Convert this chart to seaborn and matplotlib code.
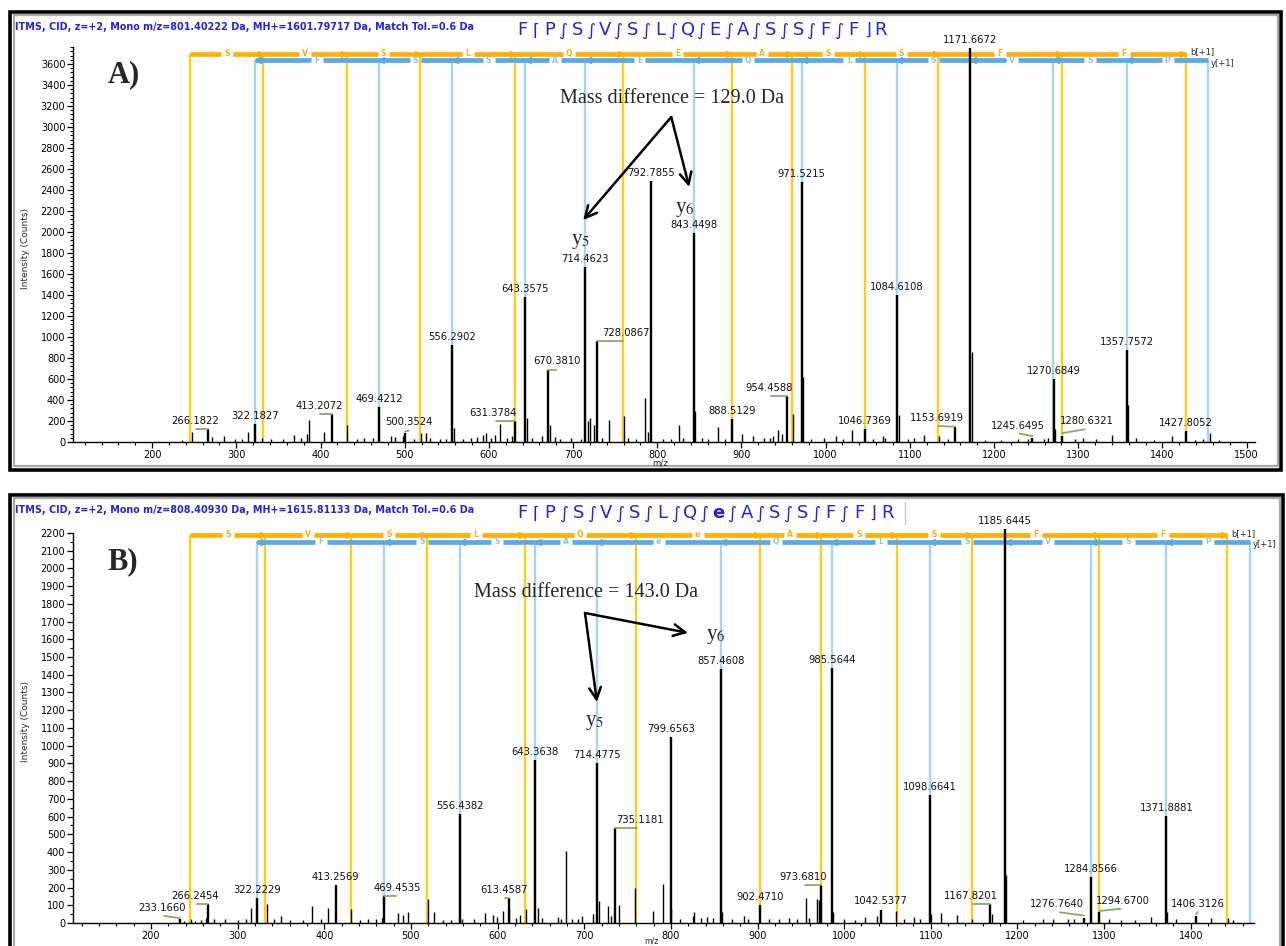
import numpy as np
import pandas as pd
import matplotlib
matplotlib.use("Agg")
import matplotlib.pyplot as plt
import seaborn as sns
from matplotlib.patches import Rectangle
from matplotlib.ticker import MultipleLocator

# ---------------------------------------------------------------- data
# Panel A: FPSVSLQEASSFFR (precursor m/z 801.40222, z=+2)
a_label_mz = [266.1822, 322.1827, 413.2072, 469.4212, 500.3524, 556.2902, 631.3784,
              643.3575, 670.3810, 714.4623, 728.0867, 792.7855, 843.4498, 888.5129,
              954.4588, 971.5215, 1046.7369, 1084.6108, 1153.6919, 1171.6672,
              1245.6495, 1270.6849, 1280.6321, 1357.7572, 1427.8052]
a_label_int = [120, 174, 270, 330, 90, 920, 200, 1385, 690, 1662, 960, 2488, 1993, 220,
               440, 2473, 122, 1400, 142, 3750, 40, 600, 60, 875, 108]
a_minor_mz = [236, 247, 270.8, 285, 298, 307, 314, 331, 341, 355, 369, 377, 384, 386.5,
              404, 432, 443, 452, 462, 484, 489, 498, 510.8, 519.5, 525.3, 530, 542,
              549.5, 558.5, 569, 578.6, 586, 593, 597, 603, 607.7, 613.5, 622, 627,
              645.5, 651, 663, 672, 678, 685, 697, 709, 717.8, 720, 725, 734, 743,
              760.4, 765, 775, 786, 789, 806.7, 816, 826, 831, 845, 853, 860.5, 871.8,
              880, 901, 914, 926.7, 934, 938, 943.8, 948.7, 961, 973.7, 983, 997.7,
              1012.4, 1021, 1031, 1056.5, 1068.7, 1071, 1087, 1098, 1105.5, 1116.7,
              1135, 1145, 1174, 1188.7, 1208, 1228, 1240, 1259.8, 1264.7, 1272, 1296,
              1306, 1321, 1340.6, 1359.2, 1369, 1389.6, 1411.6, 1438.6, 1448.4, 1456,
              1467.7]
a_minor_int = [15, 100, 50, 60, 25, 25, 95, 40, 30, 25, 65, 40, 80, 205,
               95, 160, 30, 35, 40, 60, 45, 60, 30, 90, 90, 40, 30,
               25, 130, 25, 40, 50, 70, 90, 40, 70, 170, 40, 55,
               230, 40, 60, 160, 50, 30, 40, 30, 200, 225, 160, 40, 210,
               250, 40, 30, 420, 100, 30, 25, 160, 40, 300, 40, 25, 140,
               30, 75, 55, 40, 35, 60, 110, 80, 270, 620, 30, 40,
               60, 30, 115, 30, 60, 40, 255, 30, 40, 65,
               60, 30, 860, 20, 20, 25, 30, 30, 40, 120, 25,
               40, 25, 65, 350, 40, 20, 60, 20, 25, 90,
               15]
a_b_mz = [245.13, 332.16, 431.23, 518.26, 631.35, 759.40, 888.45, 959.48, 1046.51,
          1133.55, 1280.61, 1427.68]
a_b_res = ["S", "V", "S", "L", "Q", "E", "A", "S", "S", "F", "F"]
a_y_mz = [322.19, 469.26, 556.29, 643.32, 714.36, 843.40, 971.46, 1084.55, 1171.58,
          1270.65, 1357.68, 1454.73]
a_y_res = ["F", "S", "S", "A", "E", "Q", "L", "S", "V", "S", "P"]
a_sequence = list("FPSVSLQEASSFFR")
a_title = "ITMS, CID, z=+2, Mono m/z=801.40222 Da, MH+=1601.79717 Da, Match Tol.=0.6 Da"
a_note = "Mass difference = 129.0 Da"

# Panel B: FPSVSLQeASSFFR, e = methylated glutamate (precursor m/z 808.40930, z=+2)
b_label_mz = [233.1660, 266.2454, 322.2229, 413.2569, 469.4535, 556.4382, 613.4587,
              643.3638, 714.4775, 735.1181, 799.6563, 857.4608, 902.4710, 973.6810,
              985.5644, 1042.5377, 1098.6641, 1167.8201, 1185.6445, 1276.7640,
              1284.8566, 1294.6700, 1371.8881, 1406.3126]
b_label_int = [20, 105, 140, 215, 152, 613, 140, 918, 902, 537, 1047, 1433, 100, 213,
               1440, 76, 720, 105, 2220, 30, 261, 60, 605, 42]
b_minor_mz = [238, 246.5, 251, 258, 263, 273, 286, 300, 310, 315.8, 334, 341.5, 350.4,
              361, 375, 385.5, 396.2, 404.7, 431.4, 440.7, 450, 459.4, 466.4, 485, 491,
              497, 519.3, 526.3, 536.6, 546, 559, 573, 585.7, 595, 598.8, 606.8, 613,
              620.8, 625.5, 632.5, 646.5, 651, 670, 673.6, 679.3, 686, 693.4, 698, 710,
              717, 728, 731, 740, 758.5, 779.3, 790.7, 800.6, 811, 825.3, 826.7, 834.7,
              841.8, 848.9, 859.3, 870.2, 884.4, 889, 912.8, 924.6, 936.4, 945.9, 955.4,
              959, 968.1, 971, 987.5, 1000.3, 1012, 1023.9, 1038.2, 1060.4, 1068.9,
              1080.7, 1087.8, 1100.1, 1111.5, 1130.4, 1147, 1170.6, 1187.2, 1206,
              1229.8, 1241.6, 1258, 1265.3, 1305.5, 1319.7, 1336, 1353.7, 1373, 1382.5,
              1423.8, 1442.7, 1448.4]
b_minor_int = [10, 25, 10, 15, 30, 25, 25, 15, 20, 85, 107, 20, 42,
               15, 15, 95, 25, 86, 80, 15, 25, 25, 30, 55, 45,
               60, 137, 60, 15, 15, 20, 20, 55, 45, 35, 65, 85,
               30, 45, 80, 85, 30, 35, 20, 404, 20, 25, 40, 50,
               124, 95, 40, 100, 200, 65, 219, 80, 25, 40, 60, 30,
               35, 30, 60, 25, 40, 20, 20, 20, 30, 25, 141,
               30, 133, 130, 60, 20, 15, 35, 40, 65, 20,
               35, 25, 50, 55, 45, 25, 50, 270, 15,
               20, 20, 20, 25, 25, 15, 15, 35, 60, 25,
               30, 30, 15]
b_b_mz = [245.13, 332.16, 431.23, 518.26, 631.35, 759.40, 902.47, 973.50, 1060.53,
          1147.57, 1294.63, 1441.70]
b_b_res = ["S", "V", "S", "L", "Q", "e", "A", "S", "S", "F", "F"]
b_y_mz = [322.19, 469.26, 556.29, 643.32, 714.36, 857.42, 985.48, 1098.56, 1185.60,
          1284.67, 1371.70, 1468.75]
b_y_res = ["F", "S", "S", "A", "e", "Q", "L", "S", "V", "S", "P"]
b_sequence = list("FPSVSLQeASSFFR")
b_title = "ITMS, CID, z=+2, Mono m/z=808.40930 Da, MH+=1615.81133 Da, Match Tol.=0.6 Da"
b_note = "Mass difference = 143.0 Da"

# ---------------------------------------------------------------- style
W, H = 1286, 946
sns.set_theme(style="white")
plt.rcParams["font.family"] = ["DejaVu Sans"]
plt.rcParams["mathtext.fontset"] = "stix"

B_LINE = "#FFCC1A"     # b-ion guide lines
B_BAR = "#FFB000"      # b-ion ladder
Y_LINE = "#A8D3F6"     # y-ion guide lines
Y_BAR = "#55A9EE"      # y-ion ladder
Y_TXT = "#8CC6F2"
LEADER = "#8AA86A"
TITLE_BLUE = "#2323E6"
SERIF = "Liberation Serif"

fig = plt.figure(figsize=(W / 100, H / 100), dpi=100)
fig.patch.set_facecolor("white")


def fx(px):
    return px / W


def fy(py):
    return 1 - py / H


def stick_frame(mz, top):
    mz = np.asarray(mz, float)
    top = np.broadcast_to(np.asarray(top, float), mz.shape)
    n = len(mz)
    return pd.DataFrame({
        "mz": np.repeat(mz, 2),
        "intensity": np.column_stack([np.zeros(n), top]).ravel(),
        "peak": np.repeat(np.arange(n), 2),
    })


def draw_sticks(ax, frame, color, lw, z):
    sns.lineplot(data=frame, x="mz", y="intensity", units="peak", estimator=None,
                 sort=False, color=color, linewidth=lw, ax=ax, legend=False,
                 zorder=z, clip_on=False, solid_capstyle="butt")


def frame_box(x0, y0, x1, y1):
    fig.add_artist(Rectangle((fx(x0), fy(y1)), (x1 - x0) / W, (y1 - y0) / H,
                             transform=fig.transFigure, fill=False, lw=2.6,
                             ec="black", zorder=0))
    fig.add_artist(Rectangle((fx(x0 + 3.5), fy(y1 - 3.5)), (x1 - x0 - 7) / W,
                             (y1 - y0 - 7) / H, transform=fig.transFigure,
                             fill=False, lw=1.6, ec="#a8a8a8", zorder=0))


def ladder(ax, ions, residues, level, bar_color, txt_color, gap, pointing):
    for i, res in enumerate(residues):
        x0, x1 = ions[i], ions[i + 1]
        xm = 0.5 * (x0 + x1)
        ax.plot([x0, xm - gap], [level, level], color=bar_color, lw=3.4,
                solid_capstyle="butt", clip_on=False, zorder=3)
        ax.plot([xm + gap, x1], [level, level], color=bar_color, lw=3.4,
                solid_capstyle="butt", clip_on=False, zorder=3)
        if pointing == "right":
            ax.plot([x1 - 3], [level], marker=">", ms=4.5, color=bar_color,
                    mec=bar_color, clip_on=False, zorder=3)
        else:
            ax.plot([x0 + 3], [level], marker="<", ms=4.5, color=bar_color,
                    mec=bar_color, clip_on=False, zorder=3)
        ax.text(xm, level, res, ha="center", va="center", fontsize=5.6,
                fontweight="bold", color=txt_color, zorder=4, clip_on=False)


def draw_panel(p):
    frame_box(*p["box"])
    left, right, top, bottom = p["axes_px"]
    ax = fig.add_axes([fx(left), fy(bottom), (right - left) / W, (bottom - top) / H])
    ax.set_facecolor("none")
    ax.set_xlim(*p["xlim"])
    ax.set_ylim(0, p["ytop"])

    # fragment guide lines and ladders
    draw_sticks(ax, stick_frame(p["b_mz"], p["b_level"]), B_LINE, 1.7, 1)
    draw_sticks(ax, stick_frame(p["y_mz"], p["y_level"]), Y_LINE, 1.7, 1)
    ladder(ax, p["b_mz"], p["b_res"], p["b_level"], B_BAR, B_BAR, p["gap"], "right")
    ladder(ax, p["y_mz"], p["y_res"], p["y_level"], Y_BAR, Y_TXT, p["gap"], "left")
    ax.annotate("b[+1]", (p["b_mz"][-1], p["b_level"]), xytext=(3, 1),
                textcoords="offset points", fontsize=6, ha="left", va="center",
                annotation_clip=False)
    ax.annotate("y[+1]", (p["y_mz"][-1], p["y_level"]), xytext=(2, -2),
                textcoords="offset points", fontsize=6, ha="left", va="center",
                annotation_clip=False)

    # spectrum
    draw_sticks(ax, stick_frame(p["minor_mz"], p["minor_int"]), "black", 1.0, 5)
    draw_sticks(ax, stick_frame(p["label_mz"], p["label_int"]), "black", 1.7, 6)

    for mz, inten in zip(p["label_mz"], p["label_int"]):
        dx, dy = p["offsets"].get(mz, (0, 0))
        ax.annotate(f"{mz:.4f}", (mz + dx, inten + dy), xytext=(0, 2.2),
                    textcoords="offset points", ha="center", va="bottom",
                    fontsize=7.2, color="#111111", annotation_clip=False, zorder=8)
        if dx != 0:
            ax.plot([mz + dx * 0.9, mz], [inten + dy, inten + dy * 0.4], color=LEADER,
                    lw=1.3, clip_on=False, zorder=7)

    # axes cosmetics
    for side in ("top", "right"):
        ax.spines[side].set_visible(False)
    for side in ("left", "bottom"):
        ax.spines[side].set_color("black")
        ax.spines[side].set_linewidth(1.0)
        ax.spines[side].set_zorder(9)
    ax.spines["left"].set_bounds(0, p["spine_top"])
    ax.xaxis.set_major_locator(MultipleLocator(100))
    ax.xaxis.set_minor_locator(MultipleLocator(20))
    ax.yaxis.set_major_locator(MultipleLocator(p["ymajor"]))
    ax.yaxis.set_minor_locator(MultipleLocator(p["yminor"]))
    ax.tick_params(which="both", bottom=True, left=True, direction="out",
                   color="black", labelcolor="black")
    ax.tick_params(which="major", length=4, width=0.9, labelsize=7, pad=1.5)
    ax.tick_params(which="minor", length=2, width=0.8)
    ax.set_xlabel("m/z", fontsize=p["xlabel_size"])
    ax.xaxis.set_label_coords(p["xlabel_x"], p["xlabel_y"])
    ax.set_ylabel("Intensity (Counts)", fontsize=6.5)
    ax.yaxis.set_label_coords(-43 / (right - left), p["ylabel_y"])
    ax.grid(False)

    # header texts
    fig.text(fx(15), fy(p["title_y"]), p["title"], fontsize=6.9, fontweight="bold",
             color=TITLE_BLUE, va="center", ha="left")
    x0, x1 = 522, p["seq_end"]
    pitch = (x1 - x0) / (len(p["seq"]) - 1)
    n = len(p["seq"])
    for i, aa in enumerate(p["seq"]):
        fig.text(fx(x0 + i * pitch), fy(p["seq_y"]), aa, fontsize=13,
                 color=TITLE_BLUE, ha="center", va="center",
                 fontweight="bold" if aa.islower() else "normal")
        if i < n - 1:
            mark = "\u2308" if i == 0 else ("\u230B" if i == n - 2 else "\u222B")
            fig.text(fx(x0 + (i + 0.5) * pitch), fy(p["seq_y"] + 1), mark,
                     fontsize=12.5, color=TITLE_BLUE, ha="center", va="center")
    if p.get("sep_x"):
        fig.add_artist(plt.Line2D([fx(p["sep_x"])] * 2, [fy(p["seq_y"] - 11), fy(p["seq_y"] + 11)],
                                  transform=fig.transFigure, color="#c8c8c8", lw=1))

    # panel tag and annotation
    ax.text(p["tag_xy"][0], p["tag_xy"][1], p["tag"], fontsize=22, fontweight="bold",
            family=SERIF, ha="center", va="center")
    ax.text(p["note_xy"][0], p["note_xy"][1], p["note"], fontsize=14.5, family=SERIF,
            ha="center", va="center", zorder=10)
    for end in p["arrow_ends"]:
        ax.annotate("", xy=end, xytext=p["arrow_start"],
                    arrowprops=dict(arrowstyle="->,head_length=0.7,head_width=0.35",
                                    lw=1.8, color="black", shrinkA=0, shrinkB=0),
                    zorder=10)
    ax.text(p["y5_xy"][0], p["y5_xy"][1], r"y$_{5}$", fontsize=15, family=SERIF,
            ha="center", va="center", zorder=10)
    ax.text(p["y6_xy"][0], p["y6_xy"][1], r"y$_{6}$", fontsize=15, family=SERIF,
            ha="center", va="center", zorder=10)
    return ax


panel_a = dict(
    box=(10, 12, 1281, 470), axes_px=(73, 1255, 47, 442), xlim=(106, 1510), ytop=3762,
    spine_top=3762, ymajor=200, yminor=40, gap=7,
    b_mz=a_b_mz, b_res=a_b_res, y_mz=a_y_mz, y_res=a_y_res, b_level=3700, y_level=3636,
    label_mz=a_label_mz, label_int=a_label_int, minor_mz=a_minor_mz, minor_int=a_minor_int,
    offsets={266.1822: (-15, 0), 413.2072: (-15, 0), 500.3524: (5, 20),
             631.3784: (-26, 0), 670.3810: (10, 0), 728.0867: (35, 0),
             954.4588: (-22, 0), 1153.6919: (-22, 10), 1245.6495: (-17, 40),
             1280.6321: (30, 60)},
    xlabel_x=0.497, xlabel_y=-0.042, xlabel_size=6.3, ylabel_y=0.49,
    title=a_title, title_y=27, seq=a_sequence, seq_y=30, seq_end=881,
    tag="A)", tag_xy=(167, 3500), note=a_note, note_xy=(818, 3276),
    arrow_start=(816.6, 3095), arrow_ends=[(712, 2114), (838, 2429)],
    y5_xy=(708.5, 1905), y6_xy=(833.3, 2210),
)

panel_b = dict(
    box=(10, 495, 1283, 965), axes_px=(73, 1254, 527, 923), xlim=(110, 1473), ytop=2233,
    spine_top=2200, ymajor=100, yminor=50, gap=7,
    b_mz=b_b_mz, b_res=b_b_res, y_mz=b_y_mz, y_res=b_y_res, b_level=2188, y_level=2149,
    label_mz=b_label_mz, label_int=b_label_int, minor_mz=b_minor_mz, minor_int=b_minor_int,
    offsets={233.1660: (-20, 20), 266.2454: (-15, 0), 469.4535: (15, 0),
             613.4587: (-6, 0), 735.1181: (29, 0), 973.6810: (-21, 0),
             1167.8201: (-21, 0), 1276.7640: (-31, 30), 1294.6700: (27, 20),
             1406.3126: (2, 20)},
    xlabel_x=0.49, xlabel_y=-0.034, xlabel_size=5.6, ylabel_y=0.51,
    title=b_title, title_y=510, seq=b_sequence, seq_y=513, seq_end=887, sep_x=905,
    tag="B)", tag_xy=(167, 2035), note=b_note, note_xy=(702, 1861),
    arrow_start=(700.9, 1748), arrow_ends=[(714.7, 1246), (819.7, 1636)],
    y5_xy=(712.4, 1128), y6_xy=(852, 1613),
)

draw_panel(panel_a)
draw_panel(panel_b)

fig.savefig("out.png", dpi=100, facecolor="white")
